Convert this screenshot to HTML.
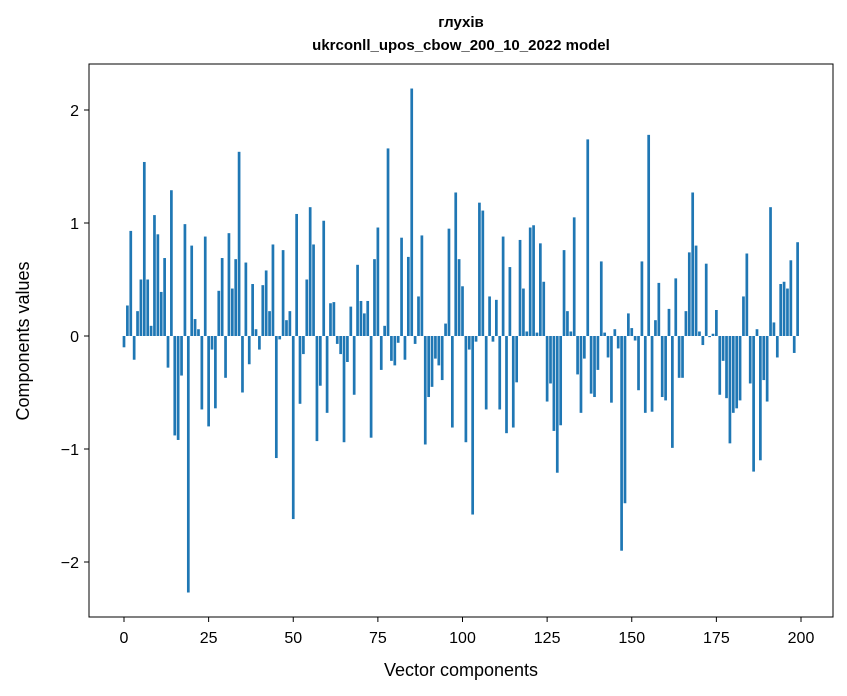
<!DOCTYPE html>
<html><head><meta charset="utf-8"><style>
body{margin:0;background:#fff;}
svg{display:block;font-family:"Liberation Sans","DejaVu Sans",sans-serif;}
</style></head><body>
<svg id="chart" width="847" height="696" viewBox="0 0 847 696" xmlns="http://www.w3.org/2000/svg">
<rect width="847" height="696" fill="#fff"/>
<text x="461" y="27" text-anchor="middle" font-size="15" font-weight="bold">глухів</text>
<text x="461" y="50" text-anchor="middle" font-size="15" font-weight="bold">ukrconll_upos_cbow_200_10_2022 model</text>
<g id="bars"></g>
<g id="axes"></g>
<rect x="89" y="64" width="744" height="553" fill="none" stroke="#000" stroke-width="1"/>
<text x="461" y="676" text-anchor="middle" font-size="18">Vector components</text>
<text transform="translate(29,341) rotate(-90)" text-anchor="middle" font-size="18">Components values</text>
</svg>
<script>
const values = [-0.1,0.27,0.93,-0.21,0.22,0.5,1.54,0.5,0.09,1.07,0.9,0.39,0.69,-0.28,1.29,-0.88,-0.92,-0.35,0.99,-2.27,
0.8,0.15,0.06,-0.65,0.88,-0.8,-0.12,-0.64,0.4,0.69,-0.37,0.91,0.42,0.68,1.63,-0.5,0.65,-0.25,0.46,0.06,
-0.12,0.45,0.58,0.22,0.81,-1.08,-0.03,0.76,0.14,0.22,-1.62,1.08,-0.6,-0.16,0.5,1.14,0.81,-0.93,-0.44,1.02,
-0.68,0.29,0.3,-0.07,-0.16,-0.94,-0.23,0.26,-0.52,0.63,0.31,0.2,0.31,-0.9,0.68,0.96,-0.3,0.09,1.66,-0.22,
-0.26,-0.06,0.87,-0.21,0.7,2.19,-0.07,0.35,0.89,-0.96,-0.54,-0.45,-0.2,-0.26,-0.39,0.11,0.95,-0.81,1.27,0.68,
0.44,-0.94,-0.12,-1.58,-0.05,1.18,1.11,-0.65,0.35,-0.05,0.32,-0.65,0.88,-0.86,0.61,-0.81,-0.41,0.85,0.42,0.04,
0.96,0.98,0.03,0.82,0.48,-0.58,-0.42,-0.84,-1.21,-0.79,0.76,0.22,0.04,1.05,-0.34,-0.68,-0.2,1.74,-0.51,-0.54,
-0.3,0.66,0.03,-0.19,-0.59,0.06,-0.11,-1.9,-1.48,0.2,0.07,-0.04,-0.48,0.66,-0.68,1.78,-0.67,0.14,0.47,-0.54,
-0.57,0.24,-0.99,0.51,-0.37,-0.37,0.22,0.74,1.27,0.8,0.04,-0.08,0.64,-0.01,0.02,0.23,-0.52,-0.22,-0.55,-0.95,
-0.68,-0.64,-0.57,0.35,0.73,-0.42,-1.2,0.06,-1.1,-0.39,-0.58,1.14,0.12,-0.19,0.46,0.48,0.42,0.67,-0.15,0.83];
const xTicks = [0,25,50,75,100,125,150,175,200];
const yTicks = [-2,-1,0,1,2];
const yTickLabels = ["\u22122","\u22121","0","1","2"];
const NS="http://www.w3.org/2000/svg";
function xScale(v){return 124 + v*(801-124)/200;}
function yScale(v){return 336 - v*113;}
const bars=document.getElementById('bars');
const bw=0.8*(801-124)/200;
values.forEach((v,i)=>{
  const r=document.createElementNS(NS,'rect');
  
  
  const y0=yScale(0), y1=yScale(v);
  r.setAttribute('x',xScale(i)-bw/2);
  r.setAttribute('y',Math.min(y0,y1));
  r.setAttribute('width',bw);
  r.setAttribute('height',Math.abs(y1-y0));
  r.setAttribute('fill','#1f77b4');
  bars.appendChild(r);
});
const axes=document.getElementById('axes');
xTicks.forEach(t=>{
  const x=xScale(t);
  const l=document.createElementNS(NS,'line');
  
  
  l.setAttribute('x1',x);l.setAttribute('x2',x);l.setAttribute('y1',617);l.setAttribute('y2',622);
  l.setAttribute('stroke','#000');
  axes.appendChild(l);
  const tx=document.createElementNS(NS,'text');
  
  
  tx.setAttribute('x',x);tx.setAttribute('y',643);
  tx.setAttribute('text-anchor','middle');tx.setAttribute('font-size','16');
  tx.textContent=String(t);
  axes.appendChild(tx);
});
yTicks.forEach((t,i)=>{
  const y=yScale(t);
  const l=document.createElementNS(NS,'line');
  
  
  l.setAttribute('x1',84);l.setAttribute('x2',89);l.setAttribute('y1',y);l.setAttribute('y2',y);
  l.setAttribute('stroke','#000');
  axes.appendChild(l);
  const tx=document.createElementNS(NS,'text');
  
  
  tx.setAttribute('x',79);tx.setAttribute('y',y+6);
  tx.setAttribute('text-anchor','end');tx.setAttribute('font-size','16');
  tx.textContent=yTickLabels[i];
  axes.appendChild(tx);
});
</script>
</body></html>
